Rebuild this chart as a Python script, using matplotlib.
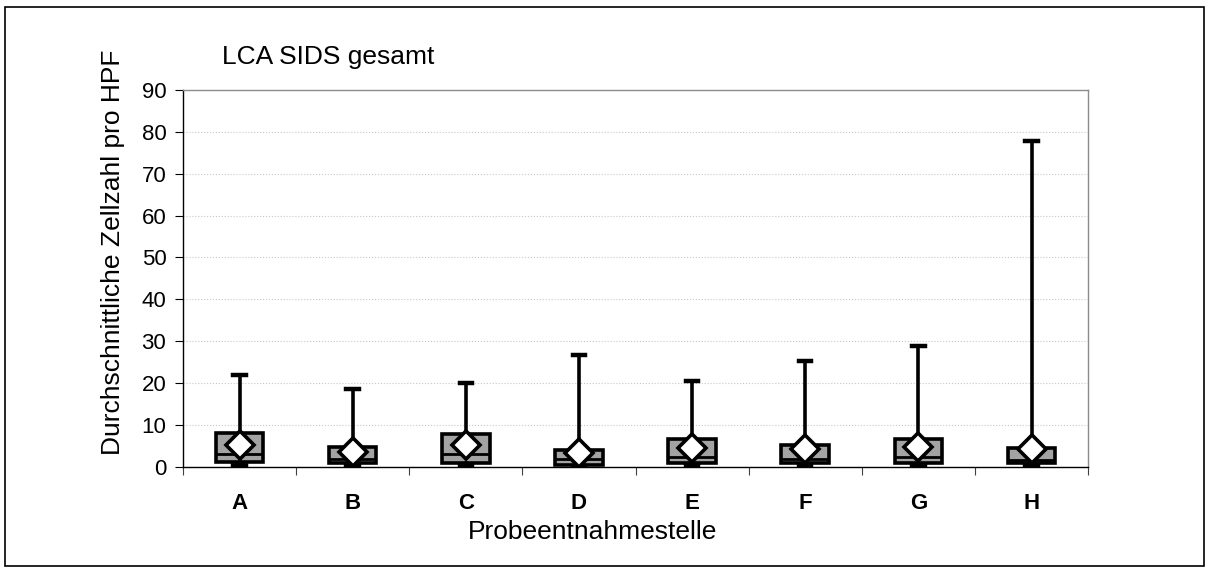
import matplotlib
matplotlib.use("Agg")
import matplotlib.pyplot as plt
from matplotlib.patches import Rectangle

plt.rcParams['font.family'] = ['Liberation Sans', 'DejaVu Sans']

# ---- data: five-number summary plus mean per sampling site ----
sites = ['A', 'B', 'C', 'D', 'E', 'F', 'G', 'H']
minimum = [0.3, 0.3, 0.3, 0.2, 0.3, 0.3, 0.3, 0.3]
q1 = [1.1, 0.9, 0.9, 0.4, 0.8, 0.8, 0.8, 0.8]
median = [3.0, 1.9, 3.0, 1.8, 2.4, 1.8, 2.4, 1.6]
q3 = [8.0, 4.8, 7.9, 4.0, 6.7, 5.1, 6.7, 4.5]
maximum = [22.0, 18.6, 20.1, 26.8, 20.4, 25.3, 28.9, 77.7]
mean = [5.3, 3.6, 5.1, 3.2, 4.5, 4.2, 4.8, 4.2]

stats = []
for i, s in enumerate(sites):
    stats.append({'label': s, 'whislo': minimum[i], 'q1': q1[i], 'med': median[i],
                  'q3': q3[i], 'whishi': maximum[i], 'mean': mean[i]})

fig = plt.figure(figsize=(12.11, 5.69), dpi=100)
ax = fig.add_axes([0.1511, 0.1798, 0.7474, 0.662])

# outer frame around the whole chart
fig.patches.append(Rectangle((0.004, 0.005), 0.990, 0.983, transform=fig.transFigure,
                             fill=False, edgecolor='black', linewidth=1.2))

positions = list(range(1, len(sites) + 1))
ax.bxp(stats, positions=positions, widths=0.42, patch_artist=True, showmeans=True,
       showfliers=False, capwidths=0.11,
       boxprops=dict(facecolor='#a3a3a3', edgecolor='black', linewidth=2.6),
       medianprops=dict(color='black', linewidth=2.0),
       whiskerprops=dict(color='black', linewidth=2.6),
       capprops=dict(color='black', linewidth=3.2),
       meanprops=dict(marker='D', markerfacecolor='white', markeredgecolor='black',
                      markersize=14, markeredgewidth=2.6),
       zorder=3)

ax.set_xlim(0.5, len(sites) + 0.5)
ax.set_ylim(0, 90)
ax.set_yticks(range(0, 91, 10))
ax.set_xticks(positions)
ax.set_xticklabels(sites, fontsize=16, fontweight='bold')
ax.tick_params(axis='x', length=0, pad=19)
ax.set_xticks([p + 0.5 for p in positions[:-1]] + [0.5, len(sites) + 0.5], minor=True)
ax.tick_params(axis='x', which='minor', length=6, width=0.8, direction='out', color='#404040')
ax.tick_params(axis='y', labelsize=16, length=6, width=0.8, direction='out', pad=6)

ax.yaxis.grid(True, linestyle=':', color='#c8c8c8', linewidth=0.8)
ax.set_axisbelow(True)

for side in ['top', 'right']:
    ax.spines[side].set_color('#8c8c8c')
    ax.spines[side].set_linewidth(1.0)
for side in ['left', 'bottom']:
    ax.spines[side].set_color('black')
    ax.spines[side].set_linewidth(1.0)

fig.text(222 / 1211, 1 - 57 / 569, 'LCA SIDS gesamt', fontsize=19, ha='left', va='center')
fig.text(113 / 1211, 1 - 252 / 569, 'Durchschnittliche Zellzahl pro HPF', fontsize=19,
         rotation=90, ha='center', va='center')
fig.text(593 / 1211, 1 - 532 / 569, 'Probeentnahmestelle', fontsize=19, ha='center', va='center')

fig.savefig('out.png', dpi=100)
